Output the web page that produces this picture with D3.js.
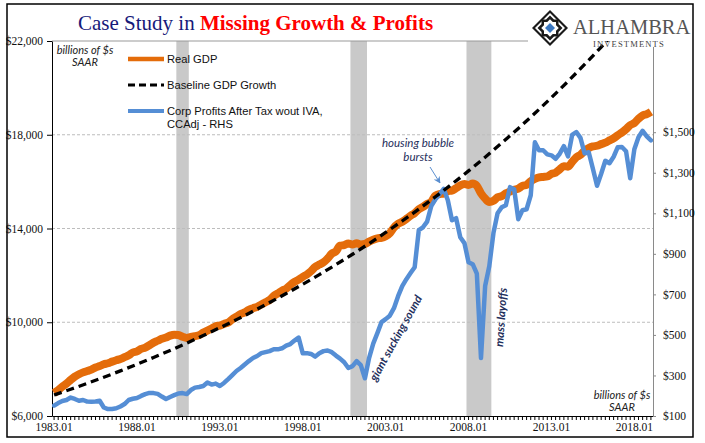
<!DOCTYPE html>
<html><head><meta charset="utf-8">
<script src="https://cdn.jsdelivr.net/npm/d3@7"></script>
<style>body{margin:0;background:#fff}</style>
</head><body><svg id="c" width="705" height="443"></svg>
<script>
// ---- categories (quarters 1983Q1 .. 2019Q1) ----
const firstYear = 1983, lastYear = 2019;
const quarters = [];
for (let y = firstYear; y <= lastYear; y++) for (let q = 1; q <= 4; q++) {
  if (y === lastYear && q > 1) break;
  quarters.push(y + "Q" + q);
}
const tickLabels = ["1983.01","1988.01","1993.01","1998.01","2003.01","2008.01","2013.01","2018.01"];
const leftTicks = [6000, 10000, 14000, 18000, 22000];
const rightTicks = [100, 300, 500, 700, 900, 1100, 1300, 1500];

// ---- Real GDP, billions (quarterly) ----
const realGDP = [
  6980, 7100, 7250, 7380,   7540, 7680, 7780, 7860,   7920, 7980, 8070, 8130,
  8210, 8250, 8320, 8380,   8430, 8510, 8590, 8710,   8760, 8860, 8920, 9020,
  9130, 9210, 9300, 9350,   9430, 9470, 9460, 9380,   9330, 9370, 9410, 9450,
  9560, 9640, 9730, 9830,   9860, 9930, 9990, 10130,  10240, 10350, 10420, 10530,
  10600, 10660, 10760, 10850, 10950, 11120, 11230, 11350, 11430, 11590, 11720, 11820,
  11940, 12040, 12180, 12360, 12460, 12560, 12720, 12930, 13020, 13270, 13290, 13360,
  13320, 13370, 13320, 13340, 13440, 13520, 13580, 13600, 13670, 13800, 14040, 14200,
  14290, 14410, 14540, 14660, 14820, 14920, 15050, 15140, 15400, 15470, 15490, 15600,
  15620, 15720, 15840, 15900, 15860, 15920, 15820, 15500, 15280, 15130, 15180, 15330,
  15380, 15500, 15580, 15650, 15700, 15820, 15860, 16020, 16120, 16180, 16200, 16220,
  16330, 16380, 16520, 16660, 16640, 16840, 17040, 17140, 17320, 17430, 17500, 17530,
  17600, 17660, 17760, 17850, 17980, 18100, 18240, 18410, 18500, 18680, 18820, 18880,
  18980
];

// ---- Baseline GDP growth (Q1 of each year) ----
const baselineQuarters = ["1983Q1","1984Q1","1985Q1","1986Q1","1987Q1","1988Q1","1989Q1","1990Q1","1991Q1","1992Q1",
  "1993Q1","1994Q1","1995Q1","1996Q1","1997Q1","1998Q1","1999Q1","2000Q1","2001Q1","2002Q1",
  "2003Q1","2004Q1","2005Q1","2006Q1","2007Q1","2008Q1","2009Q1","2010Q1","2011Q1","2012Q1",
  "2013Q1","2014Q1","2015Q1","2016Q1","2017Q1","2018Q1","2019Q1"];
const baselineGDP = [6896, 7140, 7393, 7655, 7926, 8207, 8497, 8798, 9110, 9432,
  9766, 10112, 10470, 10841, 11225, 11622, 12034, 12460, 12901, 13358,
  13831, 14321, 14828, 15353, 15896, 16459, 17042, 17646, 18270, 18917,
  19587, 20281, 20999, 21743, 22513, 23310, 24135];

// ---- Corporate profits after tax w/o IVA, CCAdj (RHS) ----
const corpProfits = [
  151, 164, 174, 179,  191, 184, 175, 179,  171, 170, 172, 175,
  142, 134, 135, 138,  147, 159, 179, 185,  189, 199, 208, 214,
  213, 209, 196, 184,  194, 203, 211, 213,  208, 228, 240, 243,
  248, 265, 255, 260,  248, 263, 282, 302,  322, 337, 354, 371,
  386, 396, 410, 415,  420, 429, 429, 434,  447, 455, 472, 487,
  409, 410, 406, 393,  410, 420, 423, 415,  398, 383, 365, 337,
  346, 371, 351, 286,  386, 457, 509, 563,  578, 595, 632, 691,
  741, 775, 805, 834,  1017, 1031, 1059, 1135, 1169, 1194, 1221, 1164,
  1066, 1076, 982, 953, 859, 849, 802, 386,  741, 839, 1002, 1100,
  1130, 1140, 1229, 1219, 1071, 1115, 1120, 1189, 1450, 1411, 1411, 1391,
  1386, 1369, 1394, 1431, 1381, 1487, 1501, 1472, 1396, 1401, 1320, 1236,
  1295, 1359, 1347, 1379, 1426, 1427, 1406, 1273, 1416, 1475, 1507, 1480,
  1460
];

const recessions = [["1990Q3","1991Q1"],["2001Q1","2001Q4"],["2008Q1","2009Q2"]];

// ---- layout ----
const svg = d3.select("#c");
const L = 52, R = 653, T = 41, B = 416;
const x = d3.scaleBand().domain(quarters).range([L, R]);
const cx = d => x(d) + x.bandwidth() / 2;
const yL = d3.scaleLinear().domain([6000, 22000]).range([B, T]);
const yR = d3.scaleLinear().domain([100, 1950]).range([B, T]);

svg.append("rect").attr("x",0).attr("y",0).attr("width",705).attr("height",443).attr("fill","#fff");

// recession bands
svg.append("g").selectAll("rect").data(recessions).join("rect")
  .attr("x", d => x(d[0])).attr("y", T)
  .attr("width", d => x(d[1]) + x.bandwidth() - x(d[0])).attr("height", B - T)
  .attr("fill", "#c9c9c9");

// gridlines
svg.append("g").selectAll("line").data([10000, 14000, 18000]).join("line")
  .attr("x1", L).attr("x2", R).attr("y1", d => yL(d)).attr("y2", d => yL(d))
  .attr("stroke", "#bdbdbd").attr("stroke-width", 1).attr("stroke-dasharray", "3,2");
svg.append("line").attr("x1", L).attr("x2", R).attr("y1", T).attr("y2", T)
  .attr("stroke", "#999").attr("stroke-width", 1);

// axes
const fontAxis = "'Liberation Serif', serif";
const tickSet = new Set(tickLabels.map(s => s.slice(0,4) + "Q1"));
const gx = svg.append("g").attr("transform", `translate(0,${B})`)
  .call(d3.axisBottom(x).tickValues(quarters).tickSize(4).tickSizeOuter(0)
    .tickFormat(d => tickSet.has(d) ? d.slice(0,4) + ".01" : ""));
gx.selectAll("text").attr("font-family", fontAxis).attr("font-size", 11.5).attr("fill", "#111");
gx.selectAll("line,path").attr("stroke", "#000");

const gl = svg.append("g").attr("transform", `translate(${L},0)`)
  .call(d3.axisLeft(yL).tickValues(leftTicks).tickSize(5).tickSizeOuter(0).tickPadding(4)
    .tickFormat(d => "$" + d3.format(",")(d)));
gl.selectAll("text").attr("font-family", fontAxis).attr("font-size", 11.5).attr("fill", "#111");
gl.selectAll("line,path").attr("stroke", "#000");

const gr = svg.append("g").attr("transform", `translate(${R},0)`)
  .call(d3.axisRight(yR).tickValues(rightTicks).tickSize(3).tickSizeOuter(0).tickPadding(7)
    .tickFormat(d => "$" + d3.format(",")(d)));
gr.selectAll("text").attr("font-family", fontAxis).attr("font-size", 11.5).attr("fill", "#111");
gr.selectAll("line,path").attr("stroke", "#8a8a8a");

// logo background
svg.append("rect").attr("x", 528).attr("y", 5).attr("width", 164).attr("height", 42).attr("fill", "#fff");

// clip
svg.append("clipPath").attr("id","plotclip").append("rect")
  .attr("x", L).attr("y", T).attr("width", R - L).attr("height", B - T);
const plot = svg.append("g").attr("clip-path", "url(#plotclip)");

plot.append("path").datum(realGDP)
  .attr("d", d3.line().x((d,i) => cx(quarters[i])).y(d => yL(d)).curve(d3.curveMonotoneX))
  .attr("fill","none").attr("stroke","#E46C0A").attr("stroke-width",8).attr("stroke-linejoin","round");

plot.append("path").datum(corpProfits)
  .attr("d", d3.line().x((d,i) => cx(quarters[i])).y(d => yR(d)))
  .attr("fill","none").attr("stroke","#558ED5").attr("stroke-width",4.5)
  .attr("stroke-linejoin","round").attr("stroke-linecap","round");

plot.append("path").datum(baselineGDP)
  .attr("d", d3.line().x((d,i) => cx(baselineQuarters[i])).y(d => yL(d)).curve(d3.curveMonotoneX))
  .attr("fill","none").attr("stroke","#000").attr("stroke-width",3.3).attr("stroke-dasharray","8,5");

// legend
const fontSans = "'Liberation Sans', Arial, sans-serif";
const leg = [
  {label:["Real GDP"], y:59, color:"#E46C0A", w:4.5, dash:null},
  {label:["Baseline GDP Growth"], y:85, color:"#000", w:3, dash:"7,4"},
  {label:["Corp Profits After Tax wout IVA,","CCAdj - RHS"], y:111, color:"#558ED5", w:4, dash:null}
];
leg.forEach(l => {
  svg.append("line").attr("x1",128).attr("x2",164).attr("y1",l.y).attr("y2",l.y)
    .attr("stroke",l.color).attr("stroke-width",l.w).attr("stroke-dasharray",l.dash);
  l.label.forEach((t,k) => svg.append("text").attr("x",167).attr("y",l.y + 4 + k*13)
    .attr("font-family",fontSans).attr("font-size",11.2).attr("fill","#111").text(t));
});

// unit notes
const fontIt = "Lato, 'Open Sans', sans-serif";
[["billions of $s",85,54],["SAAR",85,66],["billions of $s",622,399],["SAAR",622,411]].forEach(d =>
  svg.append("text").attr("x",d[1]).attr("y",d[2]).attr("text-anchor","middle")
    .attr("font-family",fontIt).attr("font-style","italic").attr("font-size",11).attr("fill","#222").text(d[0]));

// annotations
const annColor = "#1F2F5C";
[["housing bubble",146.5],["bursts",160.5]].forEach(d =>
  svg.append("text").attr("x",418).attr("y",d[1]).attr("text-anchor","middle")
    .attr("font-family",fontIt).attr("font-style","italic").attr("font-size",11.5).attr("fill",annColor).text(d[0]));
svg.append("defs").append("marker").attr("id","arr").attr("viewBox","0 0 10 10").attr("refX",9).attr("refY",5)
  .attr("markerWidth",7).attr("markerHeight",7).attr("orient","auto")
  .append("path").attr("d","M0,0 L10,5 L0,10 L3,5 Z").attr("fill","#5B8FD0");
svg.append("line").attr("x1",430).attr("y1",167).attr("x2",440).attr("y2",183)
  .attr("stroke","#5B8FD0").attr("stroke-width",1).attr("marker-end","url(#arr)");

svg.append("text").attr("transform","translate(376,382) rotate(-61)")
  .attr("font-family",fontIt).attr("font-style","italic").attr("font-weight","bold")
  .attr("font-size",11.5).attr("fill",annColor).text("giant sucking sound");
svg.append("text").attr("transform","translate(503,347) rotate(-86)")
  .attr("font-family",fontIt).attr("font-style","italic").attr("font-weight","bold")
  .attr("font-size",11.5).attr("fill",annColor).text("mass layoffs");

// title
const title = svg.append("text").attr("x",78).attr("y",30)
  .attr("font-family","'Liberation Serif', 'DejaVu Serif', serif").attr("font-size",21);
title.append("tspan").attr("fill","#17197A").text("Case Study in ");
title.append("tspan").attr("fill","#FF0000").attr("font-weight","bold").text("Missing Growth & Profits");

// logo
const lg = svg.append("g").attr("transform","translate(550,28)");
const diamond = r => `M0,${-r} L${r},0 L0,${r} L${-r},0 Z`;
const star = (s, r) => `M${-s},${-s} L${s},${-s} L${s},${s} L${-s},${s} Z M0,${-r} L${r},0 L0,${r} L${-r},0 Z`;
lg.append("path").attr("d", diamond(18)).attr("fill","#1a1a1a");
lg.append("path").attr("d", diamond(15)).attr("fill","#fff");
lg.append("path").attr("d", star(8.5, 12.5)).attr("fill","#1a1a1a");
lg.append("path").attr("d", star(6, 8.8)).attr("fill","#fff");
lg.append("path").attr("d", diamond(5)).attr("fill","#3A78C2");
svg.append("text").attr("x",573).attr("y",34).attr("font-family","'Liberation Serif', serif")
  .attr("font-size",20.5).attr("fill","#555").text("ALHAMBRA");
svg.append("text").attr("x",593).attr("y",47).attr("font-family","'Liberation Serif', serif")
  .attr("font-size",8.6).attr("letter-spacing",1.1).attr("fill","#444").text("INVESTMENTS");

// border
svg.append("rect").attr("x",7).attr("y",4).attr("width",686).attr("height",433)
  .attr("fill","none").attr("stroke","#000").attr("stroke-width",1.5);
</script></body></html>
